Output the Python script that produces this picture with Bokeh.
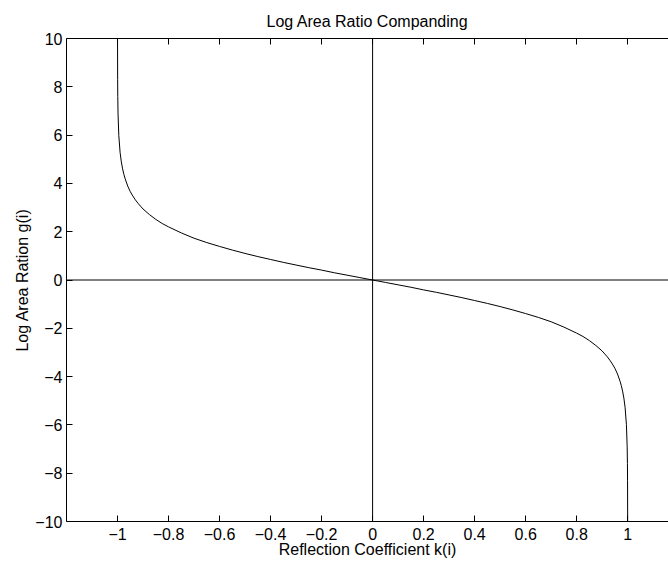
from bokeh.plotting import figure
from bokeh.models import Range1d, FixedTicker, LinearAxis, Span
from bokeh.embed import file_html
from bokeh.resources import INLINE

title_text = "Log Area Ratio Companding"
x_label = "Reflection Coefficient k(i)"
y_label = "Log Area Ration g(i)"

x_ticks = [-1, -0.8, -0.6, -0.4, -0.2, 0, 0.2, 0.4, 0.6, 0.8, 1]
x_tick_labels = ["\u22121", "\u22120.8", "\u22120.6", "\u22120.4", "\u22120.2", "0",
                 "0.2", "0.4", "0.6", "0.8", "1"]
y_ticks = [-10, -8, -6, -4, -2, 0, 2, 4, 6, 8, 10]
y_tick_labels = ["\u221210", "\u22128", "\u22126", "\u22124", "\u22122", "0",
                 "2", "4", "6", "8", "10"]

# reflection coefficient k(i) and log area ratio g(i)
k_vals = [-0.99991, -0.9999, -0.9995, -0.999, -0.998, -0.995, -0.99, -0.985,
          -0.98, -0.975, -0.97, -0.96, -0.95, -0.94, -0.93, -0.92, -0.91, -0.9,
          -0.875, -0.85, -0.825, -0.8, -0.75, -0.7, -0.65, -0.6, -0.55, -0.5,
          -0.45, -0.4, -0.35, -0.3, -0.25, -0.2, -0.15, -0.1, -0.05, 0.0,
          0.05, 0.1, 0.15, 0.2, 0.25, 0.3, 0.35, 0.4, 0.45, 0.5, 0.55, 0.6,
          0.65, 0.7, 0.75, 0.8, 0.825, 0.85, 0.875, 0.9, 0.91, 0.92, 0.93,
          0.94, 0.95, 0.96, 0.97, 0.975, 0.98, 0.985, 0.99, 0.995, 0.998,
          0.999, 0.9995, 0.9999, 0.99991]
g_vals = [10.01, 9.90, 8.29, 7.60, 6.91, 5.99, 5.29, 4.89,
          4.60, 4.37, 4.19, 3.89, 3.66, 3.48, 3.32, 3.18, 3.06, 2.94,
          2.71, 2.51, 2.34, 2.20, 1.95, 1.73, 1.55, 1.39, 1.24, 1.10,
          0.97, 0.85, 0.73, 0.62, 0.51, 0.41, 0.30, 0.20, 0.10, 0.0,
          -0.10, -0.20, -0.30, -0.41, -0.51, -0.62, -0.73, -0.85, -0.97,
          -1.10, -1.24, -1.39, -1.55, -1.73, -1.95, -2.20, -2.34, -2.51,
          -2.71, -2.94, -3.06, -3.18, -3.32, -3.48, -3.66, -3.89, -4.19,
          -4.37, -4.60, -4.89, -5.29, -5.99, -6.91, -7.60, -8.29, -9.90,
          -10.01]

FONT = "Liberation Sans"

p = figure(width=668, height=566, output_backend="svg", toolbar_location=None,
           x_range=Range1d(-1.2, 1.16), y_range=Range1d(-10, 10),
           min_border_left=66, min_border_right=0, min_border_top=38,
           min_border_bottom=45, title=title_text)
p.outline_line_color = None
p.grid.visible = False
p.background_fill_color = "white"
p.border_fill_color = "white"

p.title.text_font = FONT
p.title.text_font_size = "16px"
p.title.text_font_style = "normal"
p.title.align = "center"
p.title.text_color = "black"
p.title.standoff = 17


def style_axis(ax):
    ax.axis_line_color = "black"
    ax.axis_line_width = 1
    ax.major_tick_line_color = "black"
    ax.major_tick_in = 6
    ax.major_tick_out = 0
    ax.minor_tick_in = 0
    ax.minor_tick_out = 0
    ax.major_label_text_font = FONT
    ax.major_label_text_font_size = "16px"
    ax.major_label_text_color = "black"
    ax.axis_label_text_font = FONT
    ax.axis_label_text_font_size = "16px"
    ax.axis_label_text_font_style = "normal"
    ax.axis_label_text_color = "black"


xa = p.xaxis[0]
style_axis(xa)
xa.ticker = FixedTicker(ticks=x_ticks)
xa.major_label_overrides = dict(zip(x_ticks, x_tick_labels))
xa.axis_label = x_label
xa.major_label_standoff = 6
xa.axis_label_standoff = -2

ya = p.yaxis[0]
style_axis(ya)
ya.ticker = FixedTicker(ticks=y_ticks)
ya.major_label_overrides = dict(zip(y_ticks, y_tick_labels))
ya.axis_label = y_label
ya.major_label_standoff = 4
ya.axis_label_standoff = 1

top = LinearAxis(ticker=FixedTicker(ticks=x_ticks))
style_axis(top)
top.major_label_overrides = {t: "" for t in x_ticks}
top.major_label_standoff = 0
p.add_layout(top, "above")

p.add_layout(Span(location=0, dimension="width", line_color="black", line_width=1))
p.add_layout(Span(location=0, dimension="height", line_color="black", line_width=1))

p.line(k_vals, g_vals, line_color="black", line_width=1)

open("out.html", "w").write(file_html(p, INLINE))
